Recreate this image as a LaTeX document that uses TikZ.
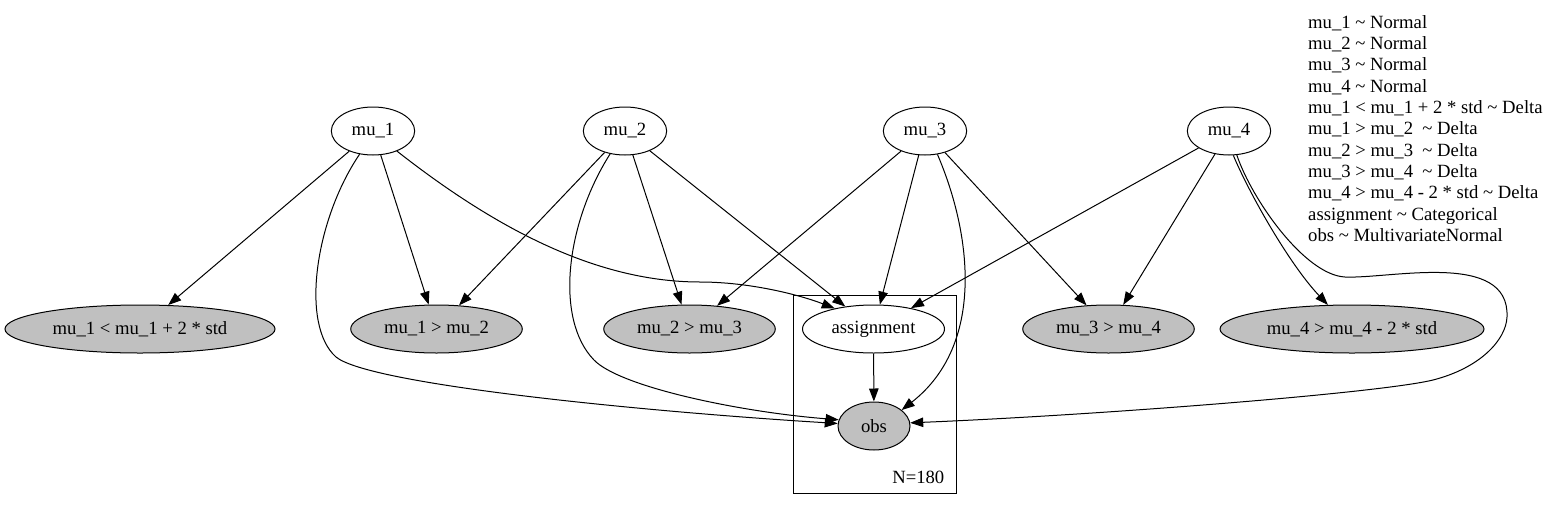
\documentclass[tikz,border=0pt]{standalone}
\usepackage{fontspec}
\setmainfont{Liberation Serif}
\usetikzlibrary{arrows.meta,shapes.geometric}
\definecolor{obsgray}{RGB}{192,192,192}
\def\gvfont{\fontsize{18.67pt}{21.33pt}\selectfont}

\begin{document}
\begin{tikzpicture}[x=1pt,y=1pt]
  \tikzset{var/.style={ellipse,draw,line width=1pt,minimum height=48pt,inner xsep=8.2pt,font=\gvfont},
    observed/.style={var,fill=obsgray},
    edge/.style={line width=1pt,-{Triangle[length=13pt,width=9.5pt]}}}
  \useasboundingbox (0,0) rectangle (1558,-509);

  % plate
  \node[draw,line width=1pt,minimum width=163pt,minimum height=198pt,inner sep=0pt] (plate) at (874.5,-394) {};
  \node[anchor=base east,inner sep=0pt,font=\gvfont] (plateN) at ([xshift=-12pt,yshift=10pt]plate.south east) {N=180};

  % free variables
  \node[var] (mu1) at (373,-131) {mu\_1};
  \node[var] (mu2) at (625,-131) {mu\_2};
  \node[var] (mu3) at (925,-131) {mu\_3};
  \node[var] (mu4) at (1229,-131) {mu\_4};

  % potentials
  \node[observed] (lt1) at (140,-329) {mu\_1 < mu\_1 + 2 * std};
  \node[observed] (gt12) at (436.5,-329) {mu\_1 > mu\_2};
  \node[observed] (gt23) at (689.5,-329) {mu\_2 > mu\_3};
  \node[var] (assign) at (873.5,-329) {assignment};
  \node[observed] (gt34) at (1108.5,-329) {mu\_3 > mu\_4};
  \node[observed] (gt44) at (1352,-329) {mu\_4 > mu\_4 - 2 * std};
  \node[observed,minimum width=72pt] (obs) at (874,-426) {obs};

  \node[anchor=north west,align=left,inner sep=0pt,font=\gvfont] (legend) at (1308,-15) {%
    mu\_1 \textasciitilde{} Normal\\
    mu\_2 \textasciitilde{} Normal\\
    mu\_3 \textasciitilde{} Normal\\
    mu\_4 \textasciitilde{} Normal\\
    mu\_1 < mu\_1 + 2 * std \textasciitilde{} Delta\\
    mu\_1 > mu\_2 \ \textasciitilde{} Delta\\
    mu\_2 > mu\_3 \ \textasciitilde{} Delta\\
    mu\_3 > mu\_4 \ \textasciitilde{} Delta\\
    mu\_4 > mu\_4 - 2 * std \textasciitilde{} Delta\\
    assignment \textasciitilde{} Categorical\\
    obs \textasciitilde{} MultivariateNormal};

  % straight edges
  \draw[edge] (mu1) -- (lt1);
  \draw[edge] (mu1) -- (gt12);
  \draw[edge] (mu2) -- (gt12);
  \draw[edge] (mu2) -- (gt23);
  \draw[edge] (mu2) -- (assign);
  \draw[edge] (mu3) -- (gt23);
  \draw[edge] (mu3) -- (assign);
  \draw[edge] (mu3) -- (gt34);
  \draw[edge] (mu4) -- (assign);
  \draw[edge] (mu4) -- (gt34);
  \draw[edge] (assign) -- (obs);

  % curved edges
  \draw[edge] (mu1.-40) .. controls (500,-232) and (600,-282) .. (700,-282)
    .. controls (750,-282) and (800,-295) .. (assign.152);
  \draw[edge] (mu1.240) .. controls (315,-220) and (300,-325) .. (336,-357)
    .. controls (370,-385) and (650,-412) .. (obs.176);
  \draw[edge] (mu2.237) .. controls (565,-225) and (555,-320) .. (594,-360)
    .. controls (620,-387) and (740,-412) .. (obs.170);
  \draw[edge] (mu3.-62) .. controls (972,-235) and (985,-345) .. (obs.30);
  \draw[edge] (mu4.-80) .. controls (1250,-195) and (1290,-265) .. (gt44.135);
  \draw[edge] (mu4.-72) .. controls (1252,-200) and (1305,-275) .. (1345,-277)
    .. controls (1390,-279) and (1510,-250) .. (1507,-317)
    .. controls (1506,-340) and (1480,-368) .. (1433,-380)
    .. controls (1380,-393) and (1100,-415) .. (obs.5);
\end{tikzpicture}
\end{document}
